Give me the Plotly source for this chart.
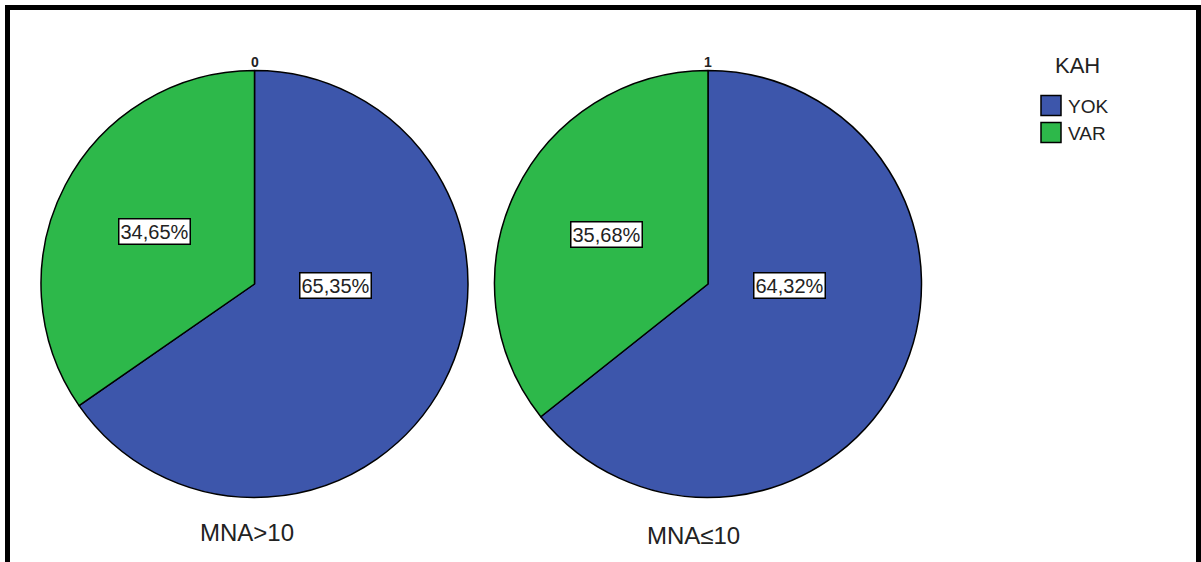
import math
import plotly.graph_objects as go

W, H = 1201, 562

# ---- data ----
labels = ["YOK", "VAR"]
groups = ["MNA>10", "MNA≤10"]
group_codes = ["0", "1"]
values_g0 = [65.35, 34.65]
values_g1 = [64.32, 35.68]
legend_title = "KAH"

# ---- style ----
colors = ["#3D56AB", "#2DB84A"]
font_family = "Liberation Sans, Arial, sans-serif"
text_col = "#222"
pie_centers_px = [(254.5, 284), (708, 284)]
pie_radius_px = 213.5
# label placement (angle clockwise from 12 o'clock in degrees, radial fraction)
label_place = {"YOK": (91.0, 0.38), "VAR": None}
label_frac_default = 0.53
group_label_x_offsets = [-7, -15]
group_label_y = [532, 535]


def px_x(x):
    return x / W


def px_y(y):
    return 1 - y / H


fig = go.Figure()
annotations = []
shapes = []
series = [values_g0, values_g1]
for i, (vals, (cx, cy)) in enumerate(zip(series, pie_centers_px)):
    r = pie_radius_px
    fig.add_trace(go.Pie(
        labels=labels,
        values=vals,
        sort=False,
        direction="clockwise",
        rotation=0,
        textinfo="none",
        hoverinfo="label+percent",
        marker=dict(colors=colors, line=dict(color="black", width=1.5)),
        domain=dict(x=[px_x(cx - r), px_x(cx + r)], y=[px_y(cy + r), px_y(cy - r)]),
        showlegend=False,
    ))
    total = sum(vals)
    cum = 0.0
    for lab, v in zip(labels, vals):
        mid = (cum + v / 2) / total * 360.0
        cum += v
        place = label_place.get(lab)
        if place is None:
            ang, frac = mid, label_frac_default
        else:
            ang, frac = place
        a = math.radians(ang)
        lx = cx + math.sin(a) * frac * r
        ly = cy - math.cos(a) * frac * r
        txt = f"{v:.2f}".replace(".", ",") + "%"
        annotations.append(dict(
            x=px_x(lx), y=px_y(ly), xref="paper", yref="paper",
            xanchor="center", yanchor="middle",
            text=txt, showarrow=False,
            font=dict(family=font_family, size=20, color=text_col),
            bgcolor="white", bordercolor="black", borderwidth=1.5, borderpad=1,
        ))
    # code above pie
    annotations.append(dict(
        x=px_x(cx), y=px_y(cy - r + 1), xref="paper", yref="paper",
        xanchor="center", yanchor="bottom",
        text=f"<b>{group_codes[i]}</b>", showarrow=False,
        font=dict(family=font_family, size=14, color=text_col),
    ))
    # group label below pie
    annotations.append(dict(
        x=px_x(cx + group_label_x_offsets[i]), y=px_y(group_label_y[i]),
        xref="paper", yref="paper", xanchor="center", yanchor="middle",
        text=groups[i], showarrow=False,
        font=dict(family=font_family, size=24, color=text_col),
    ))

# ---- custom legend ----
leg_x, leg_title_y, leg_item_y0, leg_step, sw = 1041, 66, 105.5, 27, 20
annotations.append(dict(
    x=px_x(1077), y=px_y(leg_title_y), xref="paper", yref="paper",
    xanchor="center", yanchor="middle", text=legend_title, showarrow=False,
    font=dict(family=font_family, size=22, color=text_col),
))
for k, lab in enumerate(labels):
    yc = leg_item_y0 + k * leg_step
    shapes.append(dict(
        type="rect", xref="paper", yref="paper",
        x0=px_x(leg_x), x1=px_x(leg_x + sw), y0=px_y(yc + sw / 2), y1=px_y(yc - sw / 2),
        fillcolor=colors[k], line=dict(color="black", width=1.5),
    ))
    annotations.append(dict(
        x=px_x(leg_x + sw + 5), y=px_y(yc + 1), xref="paper", yref="paper",
        xanchor="left", yanchor="middle", text=lab, showarrow=False,
        font=dict(family=font_family, size=19, color=text_col),
    ))

# frame
frame_col = "black"
shapes += [
    dict(type="line", xref="paper", yref="paper", x0=px_x(5), x1=1, y0=px_y(7.5), y1=px_y(7.5),
         line=dict(color=frame_col, width=5)),
    dict(type="line", xref="paper", yref="paper", x0=px_x(7.5), x1=px_x(7.5), y0=0, y1=px_y(5),
         line=dict(color=frame_col, width=5)),
    dict(type="line", xref="paper", yref="paper", x0=px_x(1198.5), x1=px_x(1198.5), y0=0, y1=px_y(5),
         line=dict(color=frame_col, width=5)),
]

fig.update_layout(
    width=W, height=H,
    margin=dict(l=0, r=0, t=0, b=0),
    paper_bgcolor="white", plot_bgcolor="white",
    annotations=annotations,
    shapes=shapes,
    showlegend=False,
)

fig.write_html("out.html")
